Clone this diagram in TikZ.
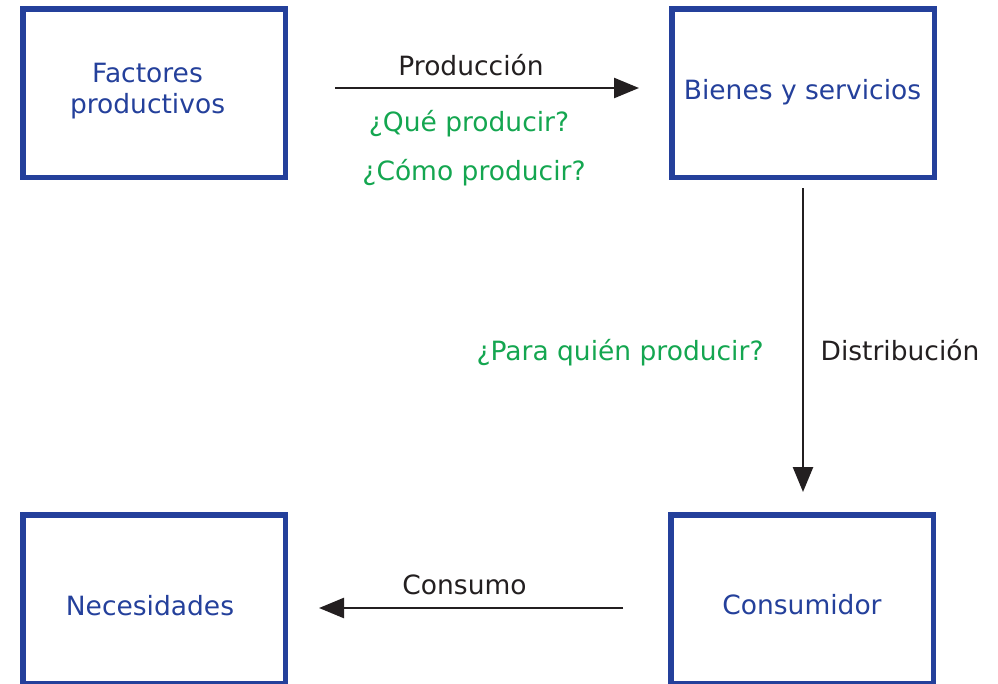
\documentclass[tikz,border=0pt]{standalone}
\usepackage{fontspec}
\setmainfont{DejaVu Sans}
\usetikzlibrary{arrows.meta}
\definecolor{boxblue}{RGB}{36,64,155}
\definecolor{qgreen}{RGB}{20,166,80}
\definecolor{ink}{RGB}{35,31,32}
\tikzset{
  box/.style={draw=boxblue, line width=5.5pt, rectangle, inner sep=0pt, outer sep=0pt,
    minimum width=262.5pt, minimum height=168.5pt},
  lbl/.style={inner sep=0pt, outer sep=0pt, anchor=base, font=\fontsize{26.5}{31}\selectfont},
  bluetxt/.style={lbl, text=boxblue},
  greentxt/.style={lbl, text=qgreen},
  blacktxt/.style={lbl, text=ink},
  flow/.style={draw=ink, line width=2.5pt, -{Triangle[length=25pt,width=20pt]}}
}
\begin{document}
\begin{tikzpicture}[x=1pt,y=-1pt]
\useasboundingbox (0,0) rectangle (998,683);
% boxes
\node[box] (fac) at (154,93) {};
\node[box] (bie) at (803,93) {};
\node[box] (nec) at (154,599) {};
\node[box] (con) at (802,599) {};
% box texts
\node[bluetxt, anchor=north, align=center] (tfac) at (147.5,62.7) {Factores\\productivos};
\node[bluetxt] (tbie) at (802.5,99) {Bienes y servicios};
\node[bluetxt] (tnec) at (150,615) {Necesidades};
\node[bluetxt] (tcon) at (802,614) {Consumidor};
% arrows
\draw[flow, shorten <=49.75pt, shorten >=32.75pt] ([yshift=5pt]fac.east) -- ([yshift=5pt]bie.west);
\draw[flow, shorten <=10.75pt, shorten >=22.75pt] (bie.south) -- (bie.south |- con.north);
\draw[flow, shorten <=47.75pt, shorten >=33.75pt] ([yshift=-9pt]con.west) -- ([yshift=-9pt]nec.east);
% arrow labels
\node[blacktxt] (lprod) at (471,75) {Producción};
\node[greentxt] (lque) at (469,131) {¿Qué producir?};
\node[greentxt] (lcomo) at (474,180) {¿Cómo producir?};
\node[greentxt] (lpara) at (620,360) {¿Para quién producir?};
\node[blacktxt] (ldist) at (900,360) {Distribución};
\node[blacktxt] (lcons) at (464.5,594) {Consumo};
\end{tikzpicture}
\end{document}
